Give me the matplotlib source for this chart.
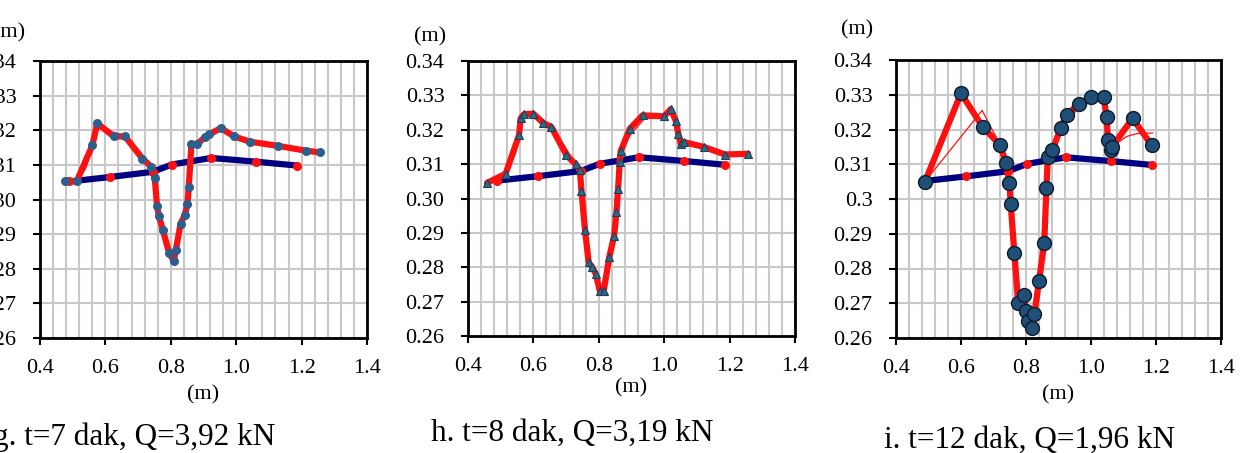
import matplotlib
matplotlib.use("Agg")
import matplotlib.pyplot as plt
import numpy as np

plt.rcParams['font.family'] = ['Liberation Serif', 'DejaVu Serif']

W, H = 1241, 453

# ---- Data ----
# Initial bed profile (same in all panels)
bed_x = [0.49, 0.615, 0.745, 0.803, 0.923, 1.062, 1.187]
bed_y = [0.3052, 0.3065, 0.3080, 0.3101, 0.3120, 0.3109, 0.3098]

# Panel g: t=7 dak
g_x = [0.476, 0.512, 0.560, 0.575, 0.626, 0.660, 0.713, 0.740, 0.751, 0.758,
       0.764, 0.776, 0.795, 0.809, 0.815, 0.830, 0.843, 0.851, 0.855, 0.863,
       0.881, 0.904, 0.917, 0.953, 0.994, 1.042, 1.127, 1.213, 1.255]
g_y = [0.3054, 0.3052, 0.3156, 0.3220, 0.3182, 0.3182, 0.3118, 0.3095, 0.3062, 0.2980,
       0.2951, 0.2911, 0.2845, 0.2823, 0.2853, 0.2930, 0.2956, 0.2988, 0.3037, 0.3160,
       0.3160, 0.3180, 0.3188, 0.3206, 0.3182, 0.3167, 0.3155, 0.3141, 0.3136]
g_thin = [
    ([0.512, 0.540, 0.565, 0.580, 0.620, 0.660, 0.700, 0.740, 0.751],
     [0.3052, 0.3090, 0.3170, 0.3205, 0.3195, 0.3185, 0.3145, 0.3098, 0.3062]),
    ([0.512, 0.550, 0.575, 0.630, 0.680, 0.720, 0.750],
     [0.3052, 0.3130, 0.3215, 0.3188, 0.3170, 0.3115, 0.3065]),
]

# Panel h: t=8 dak
h_x = [0.458, 0.515, 0.556, 0.561, 0.571, 0.599, 0.630, 0.655, 0.701, 0.730,
       0.742, 0.747, 0.758, 0.769, 0.780, 0.791, 0.803, 0.815, 0.832, 0.847,
       0.854, 0.859, 0.864, 0.867, 0.895, 0.934, 1.000, 1.020, 1.036, 1.043,
       1.051, 1.061, 1.121, 1.186, 1.257]
h_y = [0.3045, 0.3072, 0.3184, 0.3233, 0.3245, 0.3247, 0.3220, 0.3208, 0.3126, 0.3099,
       0.3082, 0.3023, 0.2907, 0.2814, 0.2800, 0.2780, 0.2731, 0.2731, 0.2829, 0.2892,
       0.2960, 0.3028, 0.3106, 0.3138, 0.3203, 0.3242, 0.3239, 0.3260, 0.3225, 0.3189,
       0.3158, 0.3164, 0.3150, 0.3128, 0.3130]
h_thin = [
    ([0.515, 0.545, 0.558, 0.575], [0.3072, 0.3130, 0.3215, 0.3243]),
    ([0.655, 0.690, 0.720, 0.742], [0.3208, 0.3160, 0.3115, 0.3082]),
    ([0.867, 0.900, 0.940, 1.000], [0.3138, 0.3190, 0.3232, 0.3235]),
]

# Panel i: t=12 dak
i_x = [0.489, 0.600, 0.667, 0.720, 0.738, 0.749, 0.753, 0.764, 0.776, 0.794,
       0.799, 0.806, 0.817, 0.826, 0.840, 0.856, 0.863, 0.867, 0.881, 0.907,
       0.925, 0.963, 0.999, 1.039, 1.048, 1.052, 1.062, 1.065, 1.128, 1.187]
i_y = [0.3050, 0.3304, 0.3207, 0.3156, 0.3105, 0.3046, 0.2986, 0.2846, 0.2701, 0.2725,
       0.2677, 0.2648, 0.2629, 0.2670, 0.2763, 0.2873, 0.3031, 0.3122, 0.3141, 0.3204,
       0.3242, 0.3274, 0.3293, 0.3293, 0.3235, 0.3170, 0.3141, 0.3151, 0.3232, 0.3154]
i_thin = [
    ([0.489, 0.665, 0.720], [0.3050, 0.3255, 0.3156]),
    ([0.925, 0.970, 1.010, 1.035], [0.3230, 0.3265, 0.3285, 0.3285]),
    ([1.065, 1.110, 1.140, 1.190], [0.3151, 0.3180, 0.3188, 0.3190]),
]

x_ticks = [0.4, 0.6, 0.8, 1.0, 1.2, 1.4]
y_ticks = [0.26, 0.27, 0.28, 0.29, 0.30, 0.31, 0.32, 0.33, 0.34]
y_labels_2d = ["0.26", "0.27", "0.28", "0.29", "0.30", "0.31", "0.32", "0.33", "0.34"]
y_labels_i = ["0.26", "0.27", "0.28", "0.29", "0.3", "0.31", "0.32", "0.33", "0.34"]
captions = ["g. t=7 dak, Q=3,92 kN", "h. t=8 dak, Q=3,19 kN", "i. t=12 dak, Q=1,96 kN"]

# ---- Figure ----
fig = plt.figure(figsize=(W / 100, H / 100), dpi=100)

def px_axes(l, r, t, b):
    return fig.add_axes([l / W, 1 - b / H, (r - l) / W, (b - t) / H])

panels = [
    dict(box=(40, 367, 61, 338), x=g_x, y=g_y, thin=g_thin, marker='o', ms=6.5,
         mfc='#2E5E8C', mec='#2E5E8C', mew=0, ylab=y_labels_2d,
         ym=(9, 33), xt=367, xl=395, cap=(134, 437)),
    dict(box=(468, 795, 61, 336), x=h_x, y=h_y, thin=h_thin, marker='^', ms=5.5,
         mfc='#2E6B80', mec='#1F3F5F', mew=0.8, ylab=y_labels_2d,
         ym=(430, 37), xt=363, xl=388, cap=(572, 433)),
    dict(box=(896, 1221, 60, 338), x=i_x, y=i_y, thin=i_thin, marker='o', ms=10,
         mfc='#1F4E79', mec='#0D1B2A', mew=1.0, ylab=y_labels_i,
         ym=(857, 30), xt=367, xl=395, cap=(1030, 440)),
]

for idx, p in enumerate(panels):
    l, r, t, b = p['box']
    ax = px_axes(l, r, t, b)
    ax.set_xlim(0.4, 1.4)
    ax.set_ylim(0.26, 0.34)
    ax.set_xticks(x_ticks)
    ax.set_xticklabels([f"{v:.1f}" for v in x_ticks])
    ax.set_xticks(np.arange(0.4, 1.4001, 0.04), minor=True)
    ax.set_yticks(y_ticks)
    ax.set_yticklabels(p['ylab'])
    ax.grid(True, which='both', axis='x', color='#c8c8c8', linewidth=1.5, zorder=0)
    ax.grid(True, which='major', axis='y', color='#c8c8c8', linewidth=1.5, zorder=0)
    ax.tick_params(axis='both', which='major', direction='out', length=5, width=1.5,
                   labelsize=16, color='black', pad=4)
    ax.tick_params(axis='x', which='minor', length=0)
    ax.tick_params(axis='y', pad=12)
    ax.tick_params(axis='x', pad=10)
    for s in ax.spines.values():
        s.set_linewidth(2.0)
        s.set_color('black')
    ax.set_axisbelow(True)

    # initial bed
    ax.plot(bed_x, bed_y, color='#000080', linewidth=4.5, solid_capstyle='round', zorder=2)
    ax.plot(bed_x, bed_y, linestyle='none', marker='o', markersize=5.5,
            color='#FF1010', zorder=3)
    # thin computed lines
    for tx, ty in p['thin']:
        ax.plot(tx, ty, color='#FF1010', linewidth=0.9, zorder=4)
    # measured profile
    ax.plot(p['x'], p['y'], color='#FF1010', linewidth=4.5, solid_joinstyle='round',
            solid_capstyle='round', zorder=5)
    ax.plot(p['x'], p['y'], linestyle='none', marker=p['marker'], markersize=p['ms'],
            markerfacecolor=p['mfc'], markeredgecolor=p['mec'],
            markeredgewidth=p['mew'], zorder=6)

    cx = (l + r) / 2
    fig.text(p['ym'][0] / W, 1 - p['ym'][1] / H, "(m)", fontsize=16,
             ha='center', va='center')
    fig.text(cx / W, 1 - p['xl'] / H, "(m)", fontsize=16, ha='center', va='center')
    fig.text(p['cap'][0] / W, 1 - p['cap'][1] / H, captions[idx],
             fontsize=22.5, ha='center', va='center')

fig.savefig("out.png", dpi=100)
